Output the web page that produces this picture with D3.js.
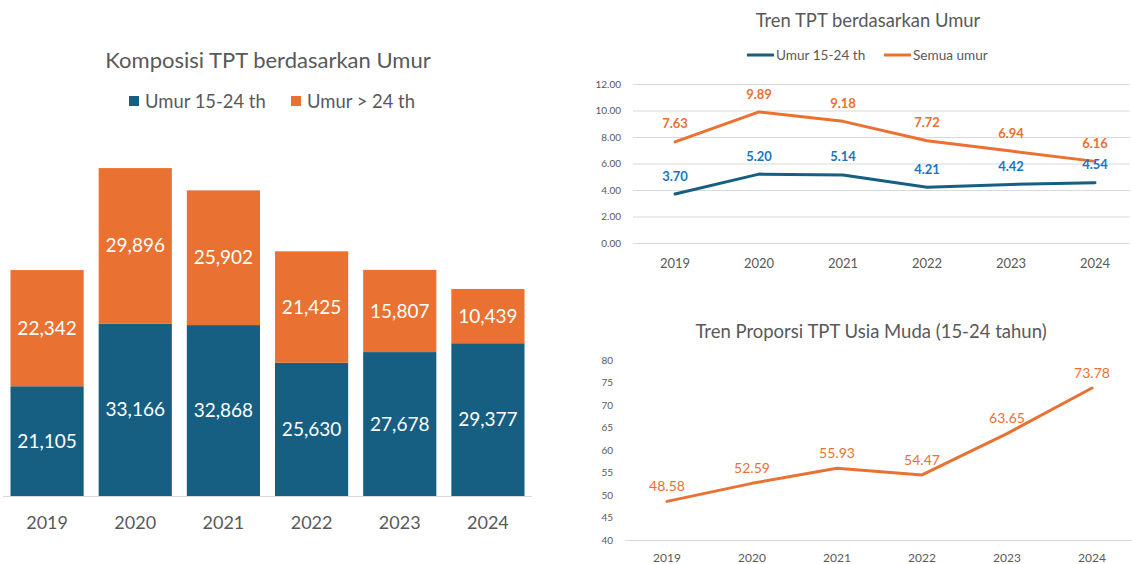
<!DOCTYPE html>
<html>
<head>
<meta charset="utf-8">
<script src="https://cdn.jsdelivr.net/npm/d3@7"></script>
<style>
  body { margin: 0; background: #fff; }
  svg { display: block; font-family: Lato, 'Noto Sans', sans-serif; }
</style>
</head>
<body>
<div id="chart"></div>
<script>
const years = ['2019', '2020', '2021', '2022', '2023', '2024'];

// Komposisi TPT (stacked bars)
const youngCount = [21105, 33166, 32868, 25630, 27678, 29377];
const olderCount = [22342, 29896, 25902, 21425, 15807, 10439];

// Tren TPT (lines)
const tptYoung = [3.70, 5.20, 5.14, 4.21, 4.42, 4.54];
const tptAll = [7.63, 9.89, 9.18, 7.72, 6.94, 6.16];
const tptTicks = [0, 2, 4, 6, 8, 10, 12];

// Proporsi usia muda
const youngShare = [48.58, 52.59, 55.93, 54.47, 63.65, 73.78];
const shareTicks = [40, 45, 50, 55, 60, 65, 70, 75, 80];

const width = 1132;
const height = 564;
const blue = '#165f82';
const orange = '#e97132';
const labelBlue = '#1a74c2';
const textGray = '#595959';
const gridGray = '#d9d9d9';

const svg = d3.select('#chart').append('svg')
  .attr('width', width)
  .attr('height', height);

//
// left: stacked bars
//

const barX = d3.scaleBand()
  .domain(years)
  .range([3, 532])
  .paddingInner(0.17)
  .paddingOuter(0.085);

const barY = d3.scaleLinear()
  .domain([0, 70000])
  .range([496, 132]);

const stackRows = years.map((y, i) => ({ year: y, young: youngCount[i], older: olderCount[i] }));
const stacked = d3.stack().keys(['young', 'older'])(stackRows);
const barColor = { young: blue, older: orange };

svg.append('text')
  .attr('x', 268).attr('y', 68)
  .attr('text-anchor', 'middle')
  .style('font-size', '22px')
  .style('fill', textGray)
  .text('Komposisi TPT berdasarkan Umur');

const barLegend = [
  { key: 'young', label: 'Umur 15-24 th', x: 129 },
  { key: 'older', label: 'Umur > 24 th', x: 291 }
];
const barLegendG = svg.append('g').selectAll('g')
  .data(barLegend)
  .enter().append('g')
  .attr('transform', d => `translate(${d.x},101)`);
barLegendG.append('rect')
  .attr('x', 0).attr('y', -5)
  .attr('width', 10).attr('height', 10)
  .style('fill', d => barColor[d.key]);
barLegendG.append('text')
  .attr('x', 16).attr('y', 6.5)
  .style('font-size', '18.4px')
  .style('fill', textGray)
  .text(d => d.label);

const layer = svg.append('g').selectAll('g')
  .data(stacked)
  .enter().append('g')
  .style('fill', d => barColor[d.key]);

layer.selectAll('rect')
  .data(d => d)
  .enter().append('rect')
  .attr('x', d => barX(d.data.year))
  .attr('y', d => barY(d[1]))
  .attr('width', barX.bandwidth())
  .attr('height', d => barY(d[0]) - barY(d[1]));

layer.selectAll('text')
  .data(d => d)
  .enter().append('text')
  .attr('x', d => barX(d.data.year) + barX.bandwidth() / 2)
  .attr('y', d => (barY(d[0]) + barY(d[1])) / 2)
  .attr('dy', '0.35em')
  .attr('text-anchor', 'middle')
  .style('fill', '#fff')
  .style('font-size', '19px')
  .text(d => d3.format(',')(d[1] - d[0]));

svg.append('line')
  .attr('x1', 3).attr('x2', 532)
  .attr('y1', 496.5).attr('y2', 496.5)
  .style('stroke', gridGray);

svg.append('g').selectAll('text')
  .data(years)
  .enter().append('text')
  .attr('x', d => barX(d) + barX.bandwidth() / 2)
  .attr('y', 529)
  .attr('text-anchor', 'middle')
  .style('font-size', '18px')
  .style('fill', textGray)
  .text(d => d);

//
// top right: TPT lines
//

const lineX = d3.scaleBand()
  .domain(years)
  .range([633, 1137]);
const lineY = d3.scaleLinear()
  .domain([0, 12])
  .range([243, 84]);
const cx = d => lineX(d) + lineX.bandwidth() / 2;

svg.append('text')
  .attr('x', 868).attr('y', 27)
  .attr('text-anchor', 'middle')
  .style('font-size', '18.4px')
  .style('fill', textGray)
  .text('Tren TPT berdasarkan Umur');

const lineLegend = [
  { color: blue, label: 'Umur 15-24 th', x: 747 },
  { color: orange, label: 'Semua umur', x: 884 }
];
const lineLegendG = svg.append('g').selectAll('g')
  .data(lineLegend)
  .enter().append('g')
  .attr('transform', d => `translate(${d.x},55)`);
lineLegendG.append('line')
  .attr('x1', 0).attr('x2', 27)
  .style('stroke', d => d.color)
  .style('stroke-width', 3);
lineLegendG.append('text')
  .attr('x', 29).attr('y', 5)
  .style('font-size', '13.6px')
  .style('fill', textGray)
  .text(d => d.label);

svg.append('g').selectAll('line')
  .data(tptTicks)
  .enter().append('line')
  .attr('x1', 633).attr('x2', 1130)
  .attr('y1', d => lineY(d) + 0.5).attr('y2', d => lineY(d) + 0.5)
  .style('stroke', gridGray);

svg.append('g').selectAll('text')
  .data(tptTicks)
  .enter().append('text')
  .attr('x', 621)
  .attr('y', d => lineY(d))
  .attr('dy', '0.35em')
  .attr('text-anchor', 'end')
  .style('font-size', '10px')
  .style('fill', textGray)
  .text(d => d3.format('.2f')(d));

svg.append('g').selectAll('text')
  .data(years)
  .enter().append('text')
  .attr('x', cx)
  .attr('y', 268)
  .attr('text-anchor', 'middle')
  .style('font-size', '13px')
  .style('fill', textGray)
  .text(d => d);

const tptLine = d3.line()
  .x((d, i) => cx(years[i]))
  .y(d => lineY(d));

const tptSeries = [
  { values: tptAll, color: orange, labelColor: orange },
  { values: tptYoung, color: blue, labelColor: labelBlue }
];

svg.append('g').selectAll('path')
  .data(tptSeries)
  .enter().append('path')
  .attr('d', d => tptLine(d.values))
  .style('fill', 'none')
  .style('stroke', d => d.color)
  .style('stroke-width', 3)
  .style('stroke-linejoin', 'round')
  .style('stroke-linecap', 'round');

tptSeries.forEach(s => {
  svg.append('g').selectAll('text')
    .data(s.values)
    .enter().append('text')
    .attr('x', (d, i) => cx(years[i]))
    .attr('y', d => lineY(d) - 18)
    .attr('dy', '0.35em')
    .attr('text-anchor', 'middle')
    .style('font-size', '13px')
    .style('font-weight', 'bold')
    .style('fill', s.labelColor)
    .text(d => d3.format('.2f')(d));
});

//
// bottom right: young share
//

const shareX = d3.scaleBand()
  .domain(years)
  .range([624.5, 1134.5]);
const shareY = d3.scaleLinear()
  .domain([40, 80])
  .range([540, 360]);
const sx = d => shareX(d) + shareX.bandwidth() / 2;

svg.append('text')
  .attr('x', 871).attr('y', 338)
  .attr('text-anchor', 'middle')
  .style('font-size', '18.5px')
  .style('fill', textGray)
  .text('Tren Proporsi TPT Usia Muda (15-24 tahun)');

svg.append('g').selectAll('text')
  .data(shareTicks)
  .enter().append('text')
  .attr('x', 613)
  .attr('y', d => shareY(d))
  .attr('dy', '0.35em')
  .attr('text-anchor', 'end')
  .style('font-size', '10px')
  .style('fill', textGray)
  .text(d => d);

svg.append('line')
  .attr('x1', 625).attr('x2', 1132)
  .attr('y1', shareY(40) + 0.5).attr('y2', shareY(40) + 0.5)
  .style('stroke', gridGray);

svg.append('g').selectAll('text')
  .data(years)
  .enter().append('text')
  .attr('x', sx)
  .attr('y', 562)
  .attr('text-anchor', 'middle')
  .style('font-size', '12px')
  .style('fill', textGray)
  .text(d => d);

const shareLine = d3.line()
  .x((d, i) => sx(years[i]))
  .y(d => shareY(d));

svg.append('path')
  .attr('d', shareLine(youngShare))
  .style('fill', 'none')
  .style('stroke', orange)
  .style('stroke-width', 3)
  .style('stroke-linejoin', 'round')
  .style('stroke-linecap', 'round');

svg.append('g').selectAll('text')
  .data(youngShare)
  .enter().append('text')
  .attr('x', (d, i) => sx(years[i]))
  .attr('y', d => shareY(d) - 15)
  .attr('dy', '0.35em')
  .attr('text-anchor', 'middle')
  .style('font-size', '14px')
  .style('fill', orange)
  .text(d => d3.format('.2f')(d));
</script>
</body>
</html>
